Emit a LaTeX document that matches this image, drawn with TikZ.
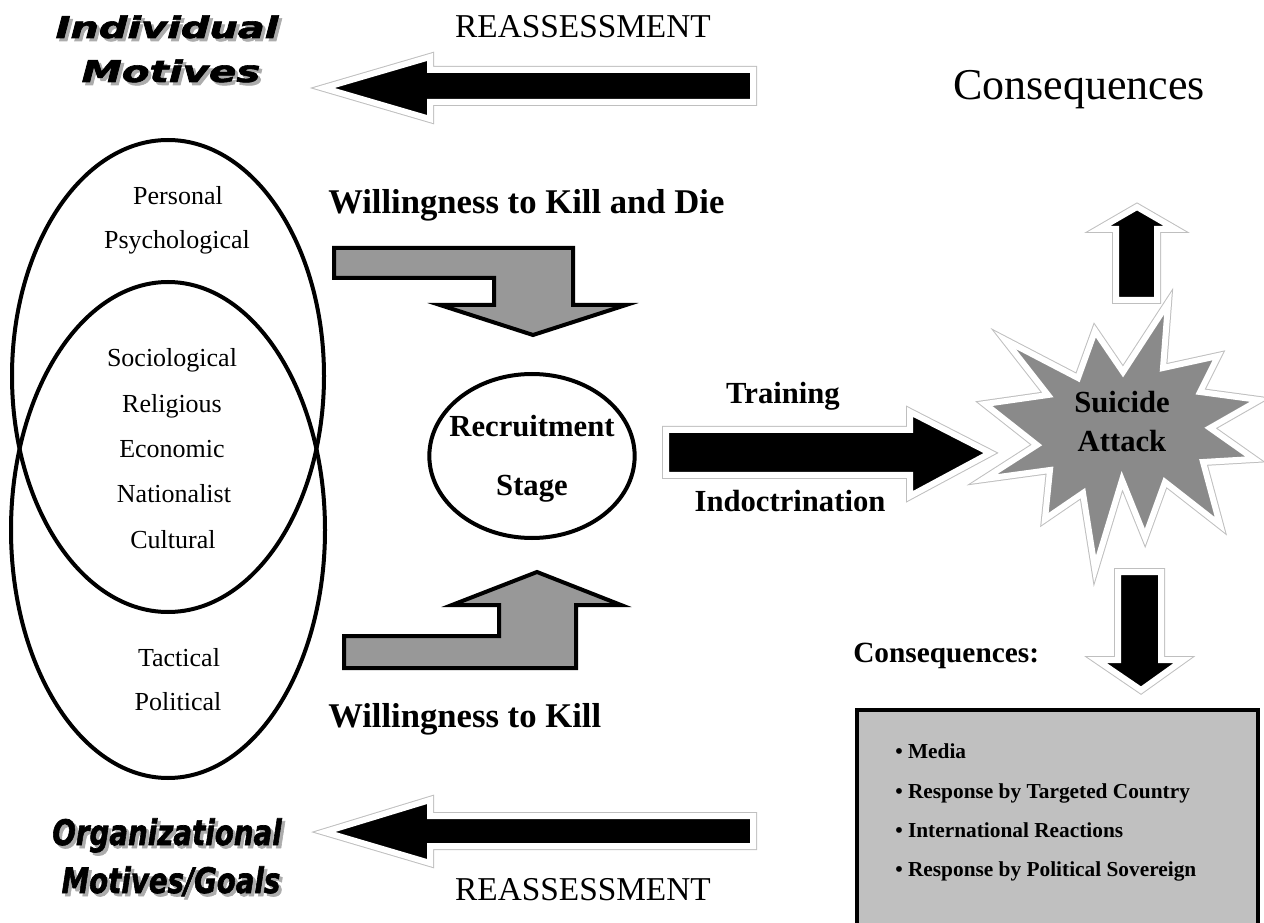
\documentclass[tikz,border=0pt]{standalone}
\usepackage{fontspec}
\setmainfont{Liberation Serif}
\newfontfamily\heavyfont[FakeBold=2]{DejaVu Sans}
\usepackage{tikz}
\usetikzlibrary{shapes.geometric}
\definecolor{bentgray}{RGB}{152,152,152}
\definecolor{stargray}{RGB}{138,138,138}
\definecolor{boxgray}{RGB}{192,192,192}
% heavy heading word with a grey drop shadow
\newcommand{\shadowword}[3]{\makebox[0pt][l]{\hspace{2.25pt}\raisebox{-2.25pt}{\textcolor{gray!65}{\resizebox{#1}{#2}{#3}}}}\resizebox{#1}{#2}{#3}}
\tikzset{
  blockarrow/.style={fill=black, draw=white, line width=4.5pt, preaction={draw=gray!50, line width=6pt}},
  burst/.style={blockarrow, fill=stargray},
  bentarrow/.style={fill=bentgray, draw=black, line width=3pt},
  ring/.style={draw=black, line width=3pt},
  motive/.style={font=\fontsize{19.5}{22}\selectfont, inner sep=0pt, anchor=base},
  caption/.style={font=\bfseries\fontsize{26}{30}\selectfont, inner sep=0pt, anchor=base west},
  stage/.style={font=\bfseries\fontsize{23}{26}\selectfont, inner sep=0pt, anchor=base},
  heading/.style={font=\heavyfont\bfseries\itshape, inner sep=0pt, anchor=base},
  effect/.style={font=\bfseries\fontsize{16}{19}\selectfont, inner sep=0pt, anchor=base west}
}

\begin{document}
\begin{tikzpicture}[x=0.75pt, y=-0.75pt]
  \useasboundingbox (0,0) rectangle (1264,923);

  % headings
  \node[heading] (indiv) at (167,38) {\shadowword{167pt}{17pt}{Individual}};
  \node[heading] (mot) at (171,82) {\shadowword{134pt}{17pt}{Motives}};
  \node[heading] (org) at (167,845) {\shadowword{172pt}{20pt}{Organizational}};
  \node[heading] (goal) at (171,893) {\shadowword{164pt}{20pt}{Motives/Goals}};

  \node[font=\fontsize{25}{28}\selectfont, inner sep=0pt, anchor=base] (reasstop) at (583,38) {REASSESSMENT};
  \node[font=\fontsize{25}{28}\selectfont, inner sep=0pt, anchor=base] (reassbot) at (583,900) {REASSESSMENT};
  \node[font=\fontsize{33}{36}\selectfont, inner sep=0pt, anchor=base] (conseqtop) at (1079,100) {Consequences};

  % motive ellipses
  \draw[ring] (168,376) ellipse [x radius=156, y radius=236];
  \draw[ring] (168,530) ellipse [x radius=157, y radius=248];
  \node[motive] (personal) at (178,205) {Personal};
  \node[motive] (psych) at (177,249) {Psychological};
  \node[motive] (socio) at (172,367) {Sociological};
  \node[motive] (relig) at (172,413) {Religious};
  \node[motive] (econ) at (172,458) {Economic};
  \node[motive] (nation) at (174,503) {Nationalist};
  \node[motive] (cult) at (173,548) {Cultural};
  \node[motive] (tact) at (179,666) {Tactical};
  \node[motive] (polit) at (178,710) {Political};

  % willingness arrows
  \node[caption] (killdie) at (328,214) {Willingness to Kill and Die};
  \draw[bentarrow] (334,248) -- (573,248) -- (573,305) -- (626,305) -- (533,335)
    -- (440,305) -- (494,305) -- (494,278) -- (334,278) -- cycle;
  \draw[bentarrow] (344,668) -- (576,668) -- (576,605) -- (621,605) -- (537,572)
    -- (452,605) -- (499,605) -- (499,636) -- (344,636) -- cycle;
  \node[caption] (kill) at (328,727) {Willingness to Kill};

  % recruitment
  \node[draw, ellipse, line width=3pt, minimum width=154pt, minimum height=123pt] (recruit) at (532,456) {};
  \node[stage] (recline) at (532,437) {Recruitment};
  \node[stage] (stageline) at (532,495) {Stage};

  % training arrow
  \node[stage] (train) at (783,404) {Training};
  \node[stage] (indoc) at (790,512) {Indoctrination};
  \draw[blockarrow] (666,430) -- (910,430) -- (910,412) -- (990,453) -- (910,496)
    -- (910,475) -- (666,475) -- cycle;

  % reassessment arrows
  \draw[blockarrow] (753,70) -- (430,70) -- (430,57) -- (324,88) -- (430,119)
    -- (430,102) -- (753,102) -- cycle;
  \draw[blockarrow] (753,816) -- (430,816) -- (430,800) -- (325,832) -- (430,863)
    -- (430,846) -- (753,846) -- cycle;

  % attack
  \draw[burst] (1005,340) -- (1078,378) -- (1095,331) -- (1123,372) -- (1168,303)
    -- (1163,368) -- (1218,356) -- (1200,392) -- (1259,400) -- (1210,428)
    -- (1254,459) -- (1203,462) -- (1220,525) -- (1165,482) -- (1145,537)
    -- (1122,480) -- (1095,569) -- (1083,493) -- (1045,519) -- (1050,470)
    -- (984,479) -- (1037,445) -- (985,404) -- (1048,395) -- cycle;
  \node[stage] (suicide) at (1122,413) {Suicide};
  \node[stage] (attack) at (1122,452) {Attack};

  % consequences
  \draw[blockarrow] (1116,300) -- (1116,229) -- (1099,229) -- (1137,207) -- (1175,229)
    -- (1157,229) -- (1157,300) -- cycle;
  \draw[blockarrow] (1118,572) -- (1161,572) -- (1161,660) -- (1183,660) -- (1141,690)
    -- (1097,660) -- (1118,660) -- cycle;
  \node[font=\bfseries\fontsize{22}{26}\selectfont, inner sep=0pt, anchor=base west] (conseq) at (853,662) {Consequences:};
  \draw[fill=boxgray, line width=3pt] (857,710) rectangle (1258,935);
  \node[effect] (media) at (895,758) {\textbullet\ Media};
  \node[effect] (target) at (895,798) {\textbullet\ Response by Targeted Country};
  \node[effect] (intl) at (895,837) {\textbullet\ International Reactions};
  \node[effect] (sover) at (895,876) {\textbullet\ Response by Political Sovereign};
\end{tikzpicture}
\end{document}
